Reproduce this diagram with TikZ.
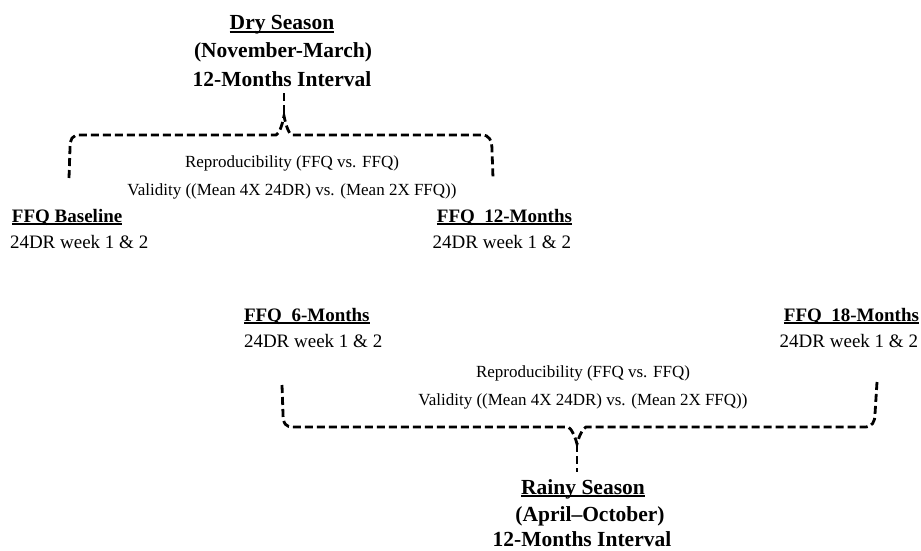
\documentclass[tikz,border=0pt]{standalone}
\usepackage{fontspec}
\setmainfont{Liberation Serif}
\newcommand\ulbox[1]{\setbox0\hbox{#1}\rlap{\rule[-2.6pt]{\wd0}{1.3pt}}\box0}
\begin{document}
\begin{tikzpicture}[x=1pt,y=-1pt,
  every node/.style={inner sep=0pt, outer sep=0pt},
  head/.style={font=\fontsize{21.5}{28}\selectfont\bfseries, anchor=base},
  lbl/.style={font=\fontsize{19}{24}\selectfont},
  note/.style={font=\fontsize{17}{28}\selectfont, anchor=base},
  brace/.style={line width=2.8pt, dash pattern=on 8pt off 4pt, line cap=butt}]
\useasboundingbox (0,0) rectangle (921,551);

% Top headings (Dry season)
\node[head] (dry1) at (282,30) {\ulbox{Dry Season}};
\node[head] (dry2) at (283,58) {(November-March)};
\node[head] (dry3) at (282,86) {12-Months Interval};

% Top notes
\node[note] (tr) at (292,167) {Reproducibility (FFQ vs. FFQ)};
\node[note] (tv) at (292,195) {Validity ((Mean 4X 24DR) vs. (Mean 2X FFQ))};

% Labels row 1
\node[lbl, anchor=base west] (fb) at (12,222) {\bfseries\ulbox{FFQ Baseline}};
\node[lbl, anchor=base west] (fbd) at (10,248) {24DR week 1 \& 2};
\node[lbl, anchor=base east] (f12) at (572,222) {\bfseries\ulbox{FFQ\ \ 12-Months}};
\node[lbl, anchor=base east] (f12d) at (571,248) {24DR week 1 \& 2};

% Labels row 2
\node[lbl, anchor=base west] (f6) at (244,321) {\bfseries\ulbox{FFQ\ \ 6-Months}};
\node[lbl, anchor=base west] (f6d) at (244,347) {24DR week 1 \& 2};
\node[lbl, anchor=base east] (f18) at (919,321) {\bfseries\ulbox{FFQ\ \ 18-Months}};
\node[lbl, anchor=base east] (f18d) at (918,347) {24DR week 1 \& 2};

% Bottom notes
\node[note] (br) at (583,377) {Reproducibility (FFQ vs. FFQ)};
\node[note] (bv) at (583,405) {Validity ((Mean 4X 24DR) vs. (Mean 2X FFQ))};

% Bottom headings (Rainy season)
\node[head] (rn1) at (583,494) {\ulbox{Rainy Season}};
\node[head] (rn2) at (590,521) {(April–October)};
\node[head] (rn3) at (582,546) {12-Months Interval};

% Top brace
\coordinate (tt) at (284,93);
\coordinate (tc) at (284,116);
\coordinate (tl) at (69,178);
\coordinate (trt) at (493,178);
\draw[brace] (tt) -- (tc);
\draw[brace] (tl) -- (70,148) .. controls (70,139) and (72,135) .. (80,135)
  -- (276,135) .. controls (279,134) and (282,126) .. (tc)
  .. controls (286,126) and (289,134) .. (292,135)
  -- (482,135) .. controls (489,135) and (492,140) .. (492,150) -- (trt);

% Bottom brace
\coordinate (bl) at (282,385);
\coordinate (brt) at (877,382);
\coordinate (bc) at (577,444);
\coordinate (bb) at (577,472);
\draw[brace] (bl) -- (283,414) .. controls (283,424) and (286,427) .. (293,427)
  -- (568,427) .. controls (571,428) and (575,436) .. (bc)
  .. controls (579,436) and (583,428) .. (586,427)
  -- (865,427) .. controls (872,427) and (875,422) .. (875,414) -- (brt);
\draw[brace] (bc) -- (bb);
\end{tikzpicture}
\end{document}
